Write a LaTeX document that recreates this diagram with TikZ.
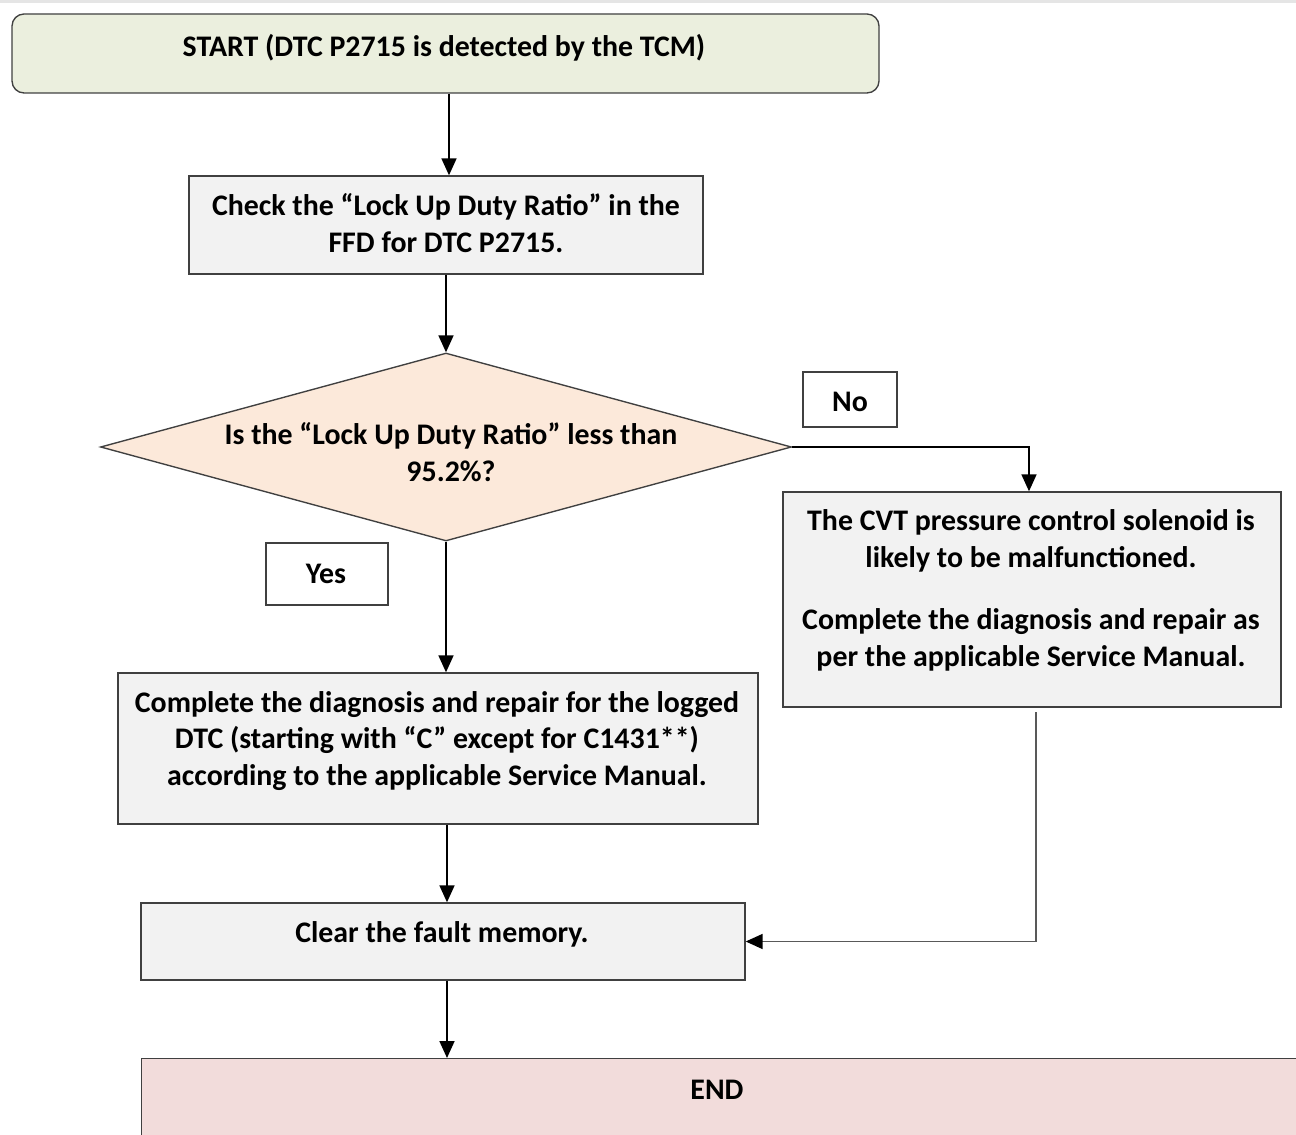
\documentclass[tikz,border=0pt]{standalone}
\usepackage{fontspec}
\setmainfont{Carlito}
\usetikzlibrary{shapes.geometric,arrows.meta}
\definecolor{startfill}{HTML}{EBEFDE}
\definecolor{stepfill}{HTML}{F2F2F2}
\definecolor{askfill}{HTML}{FCE9DA}
\definecolor{endfill}{HTML}{F2DCDB}
\definecolor{edge}{HTML}{404040}
\def\u{0.02cm}
\tikzset{
  box/.style={draw=edge, line width=0.78pt, minimum width=#1},
  txt/.style={font=\bfseries\fontsize{17}{21}\selectfont, align=center, inner sep=0pt},
  flow/.style={line width=1pt, -{Triangle[length=17*\u, width=15*\u, color=black]}}
}
\begin{document}
\begin{tikzpicture}[x=\u, y=-\u]
\useasboundingbox (0, 0) rectangle (1296, 1135);
\draw[gray!20, line width=3*\u] (0, 2) -- (1296, 2);

% boxes
\node[box=867*\u, fill=startfill, rounded corners=12*\u, minimum height=79*\u] (start) at (445.5, 53.5) {};
\node[box=514*\u, fill=stepfill, minimum height=98*\u] (check) at (446, 225) {};
\node[draw=edge, line width=0.78pt, fill=askfill, diamond, inner sep=0pt,
      minimum width=691*\u, minimum height=188*\u] (ask) at (446, 447) {};
\node[box=94*\u, fill=white, minimum height=55*\u] (no) at (850, 399.5) {};
\node[box=498*\u, fill=stepfill, minimum height=215*\u] (cvt) at (1032, 599.5) {};
\node[box=122*\u, fill=white, minimum height=62*\u] (yes) at (327, 574) {};
\node[box=640*\u, fill=stepfill, minimum height=151*\u] (repair) at (438, 748.5) {};
\node[box=604*\u, fill=stepfill, minimum height=77*\u] (clear) at (443, 941.5) {};
\node[box=1200*\u, fill=endfill, minimum height=150*\u, anchor=north west] (end) at (141, 1058) {};

% texts
\node[txt] (starttxt) at (444, 48) {START (DTC P2715 is detected by the TCM)};
\node[txt] (checktxt) at (446, 223) {Check the “Lock Up Duty Ratio” in the\\FFD for DTC P2715.};
\node[txt] (asktxt) at (451, 452) {Is the “Lock Up Duty Ratio” less than\\95.2\%?};
\node[txt] (notxt) at (850, 402) {No};
\node[txt] (yestxt) at (326, 574) {Yes};
\node[txt] (cvttxt) at (1031, 590) {The CVT pressure control solenoid is\\likely to be malfunctioned.\\[0.68\baselineskip]Complete the diagnosis and repair as\\per the applicable Service Manual.};
\node[txt] (repairtxt) at (437, 741) {Complete the diagnosis and repair for the logged\\DTC (starting with “C” except for C1431**)\\according to the applicable Service Manual.};
\node[txt] (cleartxt) at (442, 934) {Clear the fault memory.};
\node[txt] (endtxt) at (717, 1090) {END};

% connectors
\coordinate (cvtout) at (1036, 712);
\draw[flow] (start.south -| 449, 0) -- (check.north -| 449, 0);
\draw[flow] (check.south -| ask.north) -- (ask.north);
\draw[flow] (ask.east) -| (cvt.north -| 1029, 0);
\draw[flow] (ask.south) -- (repair.north -| ask.south);
\draw[flow] (repair.south -| 447, 0) -- (clear.north -| 447, 0);
\draw[flow, draw=gray!70!black] (cvtout) |- (clear.east);
\draw[flow] (clear.south -| 447, 0) -- (end.north -| 447, 0);
\end{tikzpicture}
\end{document}
